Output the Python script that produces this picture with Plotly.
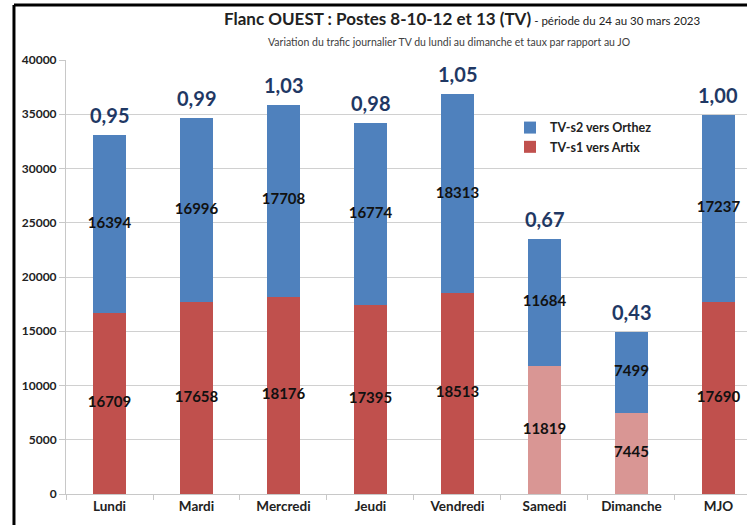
import plotly.graph_objects as go

# Données
jours = ["Lundi", "Mardi", "Mercredi", "Jeudi", "Vendredi", "Samedi", "Dimanche", "MJO"]
tv_s1_artix = [16709, 17658, 18176, 17395, 18513, 11819, 7445, 17690]
tv_s2_orthez = [16394, 16996, 17708, 16774, 18313, 11684, 7499, 17237]
taux_jo = [0.95, 0.99, 1.03, 0.98, 1.05, 0.67, 0.43, 1.00]
y_ticks = [0, 5000, 10000, 15000, 20000, 25000, 30000, 35000, 40000]

BLEU = "#4f81bd"
ROUGE = "#c0504d"
ROUGE_CLAIR = "#d99694"
FONT = "Lato"

couleurs_rouge = [ROUGE_CLAIR if j in ("Samedi", "Dimanche") else ROUGE for j in jours]
totaux = [a + b for a, b in zip(tv_s1_artix, tv_s2_orthez)]

fig = go.Figure()
fig.add_trace(go.Bar(x=jours, y=tv_s1_artix, name="TV-s1 vers Artix",
                     marker=dict(color=couleurs_rouge, line=dict(width=0))))
fig.add_trace(go.Bar(x=jours, y=tv_s2_orthez, name="TV-s2 vers Orthez",
                     marker=dict(color=BLEU, line=dict(width=0))))

# étiquettes des segments
fig.add_trace(go.Scatter(
    x=jours, y=[v / 2 for v in tv_s1_artix], mode="text", cliponaxis=False,
    text=[str(v) for v in tv_s1_artix], showlegend=False, hoverinfo="skip",
    textfont=dict(family=FONT, size=15, color="#111111", weight="bold"),
))
fig.add_trace(go.Scatter(
    x=jours, y=[a + b / 2 for a, b in zip(tv_s1_artix, tv_s2_orthez)], mode="text",
    cliponaxis=False,
    text=[str(v) for v in tv_s2_orthez], showlegend=False, hoverinfo="skip",
    textfont=dict(family=FONT, size=15, color="#111111", weight="bold"),
))

# taux par rapport au JO, au-dessus des barres
for jour, total, taux in zip(jours, totaux, taux_jo):
    fig.add_annotation(
        x=jour, y=total, yanchor="bottom", yshift=6, showarrow=False,
        text=f"{taux:.2f}".replace(".", ","),
        font=dict(family=FONT, size=20, color="#1f3864", weight="bold"),
    )

fig.update_layout(
    width=747, height=525,
    margin=dict(l=66, r=0, t=60, b=31, autoexpand=False),
    paper_bgcolor="white", plot_bgcolor="white",
    barmode="stack", bargap=0.61,
    font=dict(family=FONT, color="#222222"),
    legend=dict(
        x=0.652, y=0.878, xanchor="left", yanchor="top",
        traceorder="reversed", bgcolor="rgba(0,0,0,0)",
        font=dict(family=FONT, size=12.5, color="#222222", weight="bold"),
        itemwidth=30, tracegroupgap=4,
    ),
    showlegend=True,
)
fig.update_xaxes(
    range=[-0.5, 7.328], showgrid=False, showline=True, linecolor="#c8c8c8",
    ticks="outside", tickson="boundaries", ticklen=5, tickcolor="#c8c8c8",
    tickfont=dict(family=FONT, size=13.5, color="#222222", weight="bold"),
)
fig.update_yaxes(
    range=[0, 40000], tickvals=y_ticks, tickformat="d", showgrid=True, gridcolor="#d0d0d0",
    showline=True, linecolor="#c8c8c8", ticks="outside", ticklen=6, tickcolor="#c8c8c8",
    tickfont=dict(family=FONT, size=12, color="#222222", weight="bold"), zeroline=False,
)

# titre et sous-titre
fig.add_annotation(
    xref="paper", yref="paper", x=0.5815, y=1.095, xanchor="center", yanchor="middle",
    showarrow=False,
    text="<b>Flanc OUEST : Postes 8-10-12 et 13 (TV)</b>"
         "<span style='font-size:11.5px'> - période du 24 au 30 mars 2023</span>",
    font=dict(family=FONT, size=17, color="#222222"),
)
fig.add_annotation(
    xref="paper", yref="paper", x=0.562, y=1.042, xanchor="center", yanchor="middle",
    showarrow=False,
    text="Variation du trafic journalier TV du lundi au dimanche et taux par rapport au JO",
    font=dict(family=FONT, size=10.5, color="#404040"),
)

# cadre noir (gauche et haut)
fig.add_shape(type="line", xref="paper", yref="paper", x0=-0.0764, x1=-0.0764, y0=-0.1, y1=1.127,
              line=dict(color="black", width=3))
fig.add_shape(type="line", xref="paper", yref="paper", x0=-0.0764, x1=1.05, y0=1.127, y1=1.127,
              line=dict(color="black", width=3))

# pas de marge ni de barre de défilement autour de la figure
fig.write_html(
    "out.html",
    config={"displayModeBar": False},
    post_script=(
        "document.body.style.margin='0px';"
        "document.body.style.overflow='hidden';"
        "document.documentElement.style.overflow='hidden';"
    ),
)
